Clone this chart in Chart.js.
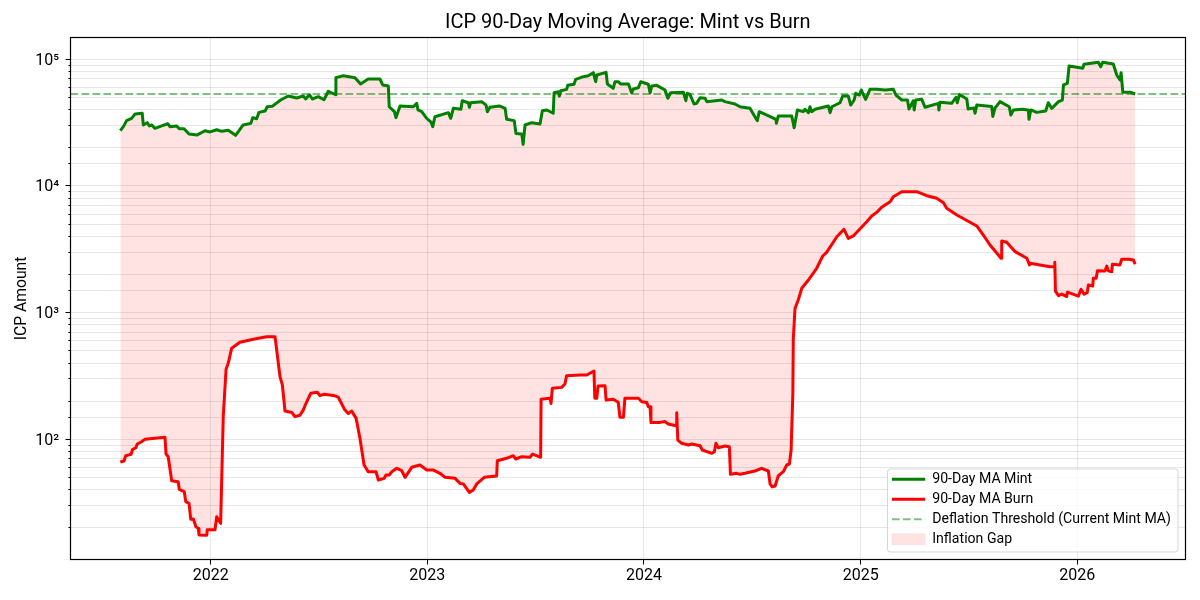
<!DOCTYPE html>
<html><head><meta charset="utf-8">
<style>html,body{margin:0;padding:0;background:#fff}canvas{display:block}</style>
<script src="https://cdn.jsdelivr.net/npm/chart.js@4/dist/chart.umd.min.js"></script>
</head><body><canvas id="c" width="1200" height="600"></canvas>
<script>
const chartTitle = "ICP 90-Day Moving Average: Mint vs Burn";
const yAxisLabel = "ICP Amount";
const yearTicks = [2022, 2023, 2024, 2025, 2026];
const legendLabels = ["90-Day MA Mint", "90-Day MA Burn", "Deflation Threshold (Current Mint MA)", "Inflation Gap"];

const mintYears = [2021.583,2021.597,2021.612,2021.635,2021.651,2021.684,2021.689,2021.707,2021.717,2021.728,2021.743,2021.774,2021.802,2021.812,2021.843,2021.855,2021.877,2021.900,2021.938,2021.974,2021.997,
2022.028,2022.051,2022.081,2022.115,2022.150,2022.185,2022.194,2022.212,2022.223,2022.251,2022.261,2022.284,2022.323,2022.358,2022.397,2022.427,2022.439,2022.455,2022.469,2022.497,2022.523,2022.543,2022.577,2022.578,2022.612,2022.666,2022.692,2022.727,2022.781,2022.794,2022.820,2022.824,2022.848,2022.855,2022.874,2022.935,2022.951,2022.957,2022.974,2022.997,
2023.016,2023.025,2023.035,2023.097,2023.108,2023.120,2023.155,2023.161,2023.189,2023.194,2023.200,2023.251,2023.271,2023.277,2023.289,2023.332,2023.359,2023.366,2023.401,2023.409,2023.436,2023.442,2023.451,2023.482,2023.520,2023.531,2023.551,2023.581,2023.585,2023.605,2023.609,2023.616,2023.643,2023.648,2023.677,2023.685,2023.720,2023.743,2023.766,2023.777,2023.782,2023.825,2023.831,2023.858,2023.866,2023.881,2023.893,2023.928,2023.943,2023.951,2023.974,2023.985,
2024.020,2024.028,2024.036,2024.059,2024.097,2024.110,2024.123,2024.182,2024.193,2024.200,2024.212,2024.231,2024.243,2024.259,2024.282,2024.290,2024.359,2024.374,2024.420,2024.443,2024.489,2024.512,2024.523,2024.532,2024.590,2024.609,2024.611,2024.620,2024.682,2024.693,2024.708,2024.735,2024.743,2024.759,2024.766,2024.774,2024.790,2024.851,2024.859,2024.867,2024.905,2024.917,2024.943,2024.954,2024.970,2024.977,2024.994,
2025.003,2025.023,2025.043,2025.074,2025.113,2025.151,2025.163,2025.190,2025.216,2025.223,2025.243,2025.247,2025.254,2025.282,2025.297,2025.359,2025.361,2025.366,2025.420,2025.440,2025.446,2025.456,2025.490,2025.496,2025.523,2025.528,2025.536,2025.605,2025.610,2025.620,2025.643,2025.686,2025.693,2025.705,2025.744,2025.774,2025.777,2025.785,2025.813,2025.854,2025.866,2025.882,2025.913,2025.931,2025.936,2025.954,2025.962,2025.998,
2026.025,2026.031,2026.097,2026.108,2026.117,2026.166,2026.182,2026.197,2026.202,2026.210,2026.244,2026.267];
const mintValues = [27300,29400,32800,34200,37000,37500,30300,31600,29800,30300,28500,29800,31000,29400,29800,28300,28300,25700,25300,27300,26700,
27800,27000,27500,25100,30300,31200,34600,33900,38100,39000,42200,42500,47700,51300,49500,51300,48600,52500,48600,50700,47900,55900,52500,71600,74200,71600,63800,69900,69900,62700,61600,42200,38600,34600,42800,42200,44900,39800,38600,34200,
32100,29400,35200,37900,34200,41000,40300,47100,45400,41800,45400,46300,43500,38600,41800,42800,41000,33600,32800,26000,25700,21300,30300,31600,30900,39300,39800,37500,54400,55500,51300,56500,57900,62300,63500,69500,72900,74200,78400,66500,75100,78900,63800,59000,66500,66500,63800,63800,54400,58300,59600,66500,
63500,54400,61600,62300,57200,49200,54400,54900,47100,53900,52900,44400,44900,49800,49200,46300,47700,46300,44400,42200,41000,35200,32800,38600,34800,33600,31200,35700,35700,28800,39800,38600,40300,37900,42200,38600,40300,42800,37900,42200,45400,51300,51300,43500,47700,53900,52200,
57200,48300,57900,57900,57200,57900,52200,47700,47700,40500,47100,39800,47700,48300,41800,44900,39800,45800,44900,50100,45400,52700,48600,40500,41200,37500,43500,42400,35400,41200,46300,42200,36300,39800,40300,39800,33600,39800,38100,39000,45400,41000,46300,47700,62700,64600,88500,86500,
84900,91300,94700,87400,94700,91800,75100,68600,78400,54900,54900,53200];

const burnYears = [2021.583,2021.600,2021.608,2021.632,2021.640,2021.655,2021.661,2021.681,2021.697,2021.789,2021.794,2021.804,2021.820,2021.850,2021.855,2021.878,2021.885,2021.900,2021.908,2021.920,2021.932,2021.943,2021.946,2021.982,2021.984,
2022.020,2022.028,2022.046,2022.058,2022.071,2022.081,2022.097,2022.135,2022.197,2022.258,2022.297,2022.320,2022.331,2022.343,2022.374,2022.389,2022.412,2022.427,2022.440,2022.462,2022.492,2022.505,2022.523,2022.566,2022.589,2022.617,2022.635,2022.651,2022.671,2022.689,2022.708,2022.727,2022.763,2022.774,2022.801,2022.809,2022.824,2022.836,2022.859,2022.882,2022.897,2022.928,2022.966,2022.997,
2023.028,2023.058,2023.082,2023.128,2023.151,2023.166,2023.194,2023.212,2023.228,2023.263,2023.320,2023.323,2023.366,2023.397,2023.408,2023.436,2023.474,2023.486,2023.523,2023.525,2023.566,2023.571,2023.577,2023.620,2023.635,2023.643,2023.705,2023.736,2023.769,2023.773,2023.782,2023.788,2023.820,2023.825,2023.858,2023.881,2023.889,2023.905,2023.912,2023.974,2023.990,
2024.013,2024.020,2024.028,2024.032,2024.074,2024.097,2024.112,2024.148,2024.151,2024.156,2024.174,2024.205,2024.220,2024.259,2024.269,2024.313,2024.325,2024.332,2024.343,2024.374,2024.394,2024.399,2024.428,2024.443,2024.466,2024.512,2024.543,2024.574,2024.582,2024.592,2024.605,2024.620,2024.643,2024.659,2024.671,2024.679,2024.687,2024.689,2024.697,2024.712,2024.728,2024.759,2024.797,2024.825,2024.843,2024.890,2024.923,2024.943,2024.966,
2025.028,2025.051,2025.074,2025.097,2025.136,2025.151,2025.190,2025.259,2025.305,2025.351,2025.382,2025.397,2025.444,2025.536,2025.566,2025.597,2025.648,2025.651,2025.674,2025.713,2025.767,2025.779,2025.782,2025.874,2025.893,2025.896,2025.899,2025.913,2025.928,2025.951,2025.954,
2026.005,2026.017,2026.031,2026.046,2026.051,2026.071,2026.074,2026.087,2026.093,2026.128,2026.136,2026.143,2026.159,2026.162,2026.197,2026.205,2026.236,2026.259,2026.267];
const burnValues = [66.2,67.4,74.2,76,83.4,85.8,91.8,95.7,100,103.7,76.5,72.9,47.1,46.2,40.3,38.6,32.2,31.2,23.4,23.5,20.4,19.8,17.6,17.5,19.3,
19.3,24.5,21.7,151,357,398,524,583,616,645,645,312,268,167,163,151,155,170,192,231,235,221,227,222,215,173,160,167,147,102,62.7,55.5,55.5,47.7,49.2,52.3,52.3,55.5,59,56.5,50.1,60.1,62.7,57.2,
57.2,53.9,50.1,49.2,44.9,44.4,38.1,39.8,44.4,50.1,51.3,67.8,70.8,74.2,69.9,72.9,72.1,76.5,72.1,207,211,192,253,257,273,318,322,322,346,211,211,264,265,204,207,196,149,149,211,211,198,
195,181,181,136,136,138,132,128,162,98.7,93,90.1,91.8,89,82.3,77.5,79.8,93,85.8,88.5,87.4,52.9,53.9,52.9,53.9,56.2,59,56.2,44.4,42.2,42.8,51.6,55.5,62.7,63.8,82.3,231,616,1080,1258,1556,1810,2240,2800,2990,3970,4550,3860,4030,
5220,5790,6190,6790,7510,8230,9010,9010,8380,7990,7380,6660,5900,4830,4100,3420,2690,3680,3590,3030,2690,2380,2450,2305,2305,2500,1480,1360,1400,1340,1450,
1350,1530,1400,1440,1650,1620,1870,1870,2140,2130,2330,2140,2100,2410,2380,2640,2640,2600,2410];

const thresholdValue = 53200;
const xMin = 2021.353, xMax = 2026.497, yMin = 11.25, yMax = 148600;

const FONT = "Roboto, Inter, sans-serif";
const zip = (xs, ys) => xs.map((x, i) => ({x, y: ys[i]}));
const SUP = {'1':'¹','2':'²','3':'³','4':'⁴','5':'⁵'};
const isDecade = v => Math.abs(Math.log10(v) - Math.round(Math.log10(v))) < 1e-9;
const GREEN = '#008000', RED = '#ff0000', FILL = 'rgba(255,0,0,0.115)', THRESH = 'rgba(0,128,0,0.5)', GRID = 'rgba(128,128,128,0.2)';
const LINE_W = 3;

const framePlugin = {
  id: 'frame',
  afterLayout(chart) {
    const lg = chart.legend;
    lg.left = 886; lg.top = 466.3; lg.right = chart.chartArea.right; lg.bottom = chart.chartArea.bottom;
    if (!lg._wrapped) {
      const orig = lg.draw;
      lg.draw = function () {
        const c = chart.ctx; c.save();
        c.beginPath(); c.roundRect(887.5, 469, 290.5, 83, 3);
        c.fillStyle = 'rgba(255,255,255,0.8)'; c.fill();
        c.strokeStyle = 'rgba(204,204,204,0.8)'; c.lineWidth = 1; c.stroke();
        c.restore();
        orig.call(this);
      };
      lg._wrapped = true;
    }
  },
  afterDatasetsDraw(chart) {
    const a = chart.chartArea, c = chart.ctx;
    const l = Math.floor(a.left) + .5, t = Math.floor(a.top) + .5, r = Math.floor(a.right) + .5, b = Math.floor(a.bottom) + .5;
    c.save(); c.strokeStyle = '#000'; c.lineWidth = 1.2;
    c.strokeRect(l, t, r - l, b - t);
    c.restore();
  }
};

new Chart(document.getElementById('c'), {
  type: 'line',
  plugins: [framePlugin],
  data: { datasets: [
    {label: legendLabels[0], data: zip(mintYears, mintValues), borderColor: GREEN, borderWidth: LINE_W, pointRadius: 0, tension: 0, fill: false, order: 1, borderJoinStyle: 'round'},
    {label: legendLabels[1], data: zip(burnYears, burnValues), borderColor: RED, borderWidth: LINE_W, pointRadius: 0, tension: 0, fill: false, order: 2, borderJoinStyle: 'round'},
    {label: legendLabels[2], data: zip([xMin, xMax], [thresholdValue, thresholdValue]), borderColor: THRESH, borderWidth: 2, borderDash: [7.7, 3.3], pointRadius: 0, fill: false, order: 0},
    {label: legendLabels[3], data: zip(mintYears, mintValues), borderColor: 'transparent', borderWidth: 0, pointRadius: 0, tension: 0, order: 3, fill: {target: 1, above: FILL, below: FILL}}
  ]},
  options: {
    responsive: false, animation: false, devicePixelRatio: 1,
    layout: {padding: {left: 0, right: 15, top: 0, bottom: 0}},
    plugins: {
      title: {display: true, fullSize: false, text: chartTitle, color: '#000', font: {family: FONT, size: 20, weight: 'normal'}, padding: {top: 11, bottom: 2.5}},
      tooltip: {enabled: false},
      legend: {
        position: 'chartArea', align: 'start',
        labels: {
          font: {family: FONT, size: 14.1}, color: '#000', padding: 5.9,
          usePointStyle: true, pointStyleWidth: 33.3, boxHeight: 11,
          generateLabels: () => [
            {text: legendLabels[0], pointStyle: 'line', strokeStyle: GREEN, fillStyle: GREEN, lineWidth: LINE_W, fontColor: '#000'},
            {text: legendLabels[1], pointStyle: 'line', strokeStyle: RED, fillStyle: RED, lineWidth: LINE_W, fontColor: '#000'},
            {text: legendLabels[2], pointStyle: 'line', strokeStyle: THRESH, fillStyle: THRESH, lineWidth: 2, lineDash: [7.7, 3.3], fontColor: '#000'},
            {text: legendLabels[3], pointStyle: 'rect', strokeStyle: 'rgba(255,0,0,0.05)', fillStyle: FILL, lineWidth: 1, fontColor: '#000'}
          ]
        }
      }
    },
    scales: {
      x: {
        type: 'linear', min: xMin, max: xMax,
        afterFit: s => { s.height = 40.5; },
        afterBuildTicks: s => { s.ticks = yearTicks.map(v => ({value: v})); },
        grid: {color: GRID, lineWidth: 1, tickLength: 5, tickColor: '#000'},
        border: {display: false},
        ticks: {autoSkip: false, maxRotation: 0, includeBounds: false, color: '#000', padding: 1.4, font: {family: FONT, size: 16}, callback: v => String(v)}
      },
      y: {
        type: 'logarithmic', min: yMin, max: yMax,
        afterFit: s => { s.width = 70.5; },
        title: {display: true, text: yAxisLabel, color: '#000', font: {family: FONT, size: 15.7}, padding: {top: 13, bottom: 0}},
        grid: {
          color: c => (c.tick && (c.tick.value === yMin || c.tick.value === yMax)) ? 'transparent' : GRID,
          lineWidth: 1, tickLength: 5,
          tickColor: c => (c.tick && (c.tick.value === yMin || c.tick.value === yMax)) ? 'transparent' : '#000',
          tickBorderDash: c => (c.tick && isDecade(c.tick.value)) ? [] : [0, 3, 2, 10]
        },
        border: {display: false},
        ticks: {autoSkip: false, color: '#000', padding: 6.5, labelOffset: 1.5, font: {family: FONT, size: 16},
          callback: v => isDecade(v) ? '10' + SUP[String(Math.round(Math.log10(v)))] : ''}
      }
    }
  }
});
</script></body></html>
